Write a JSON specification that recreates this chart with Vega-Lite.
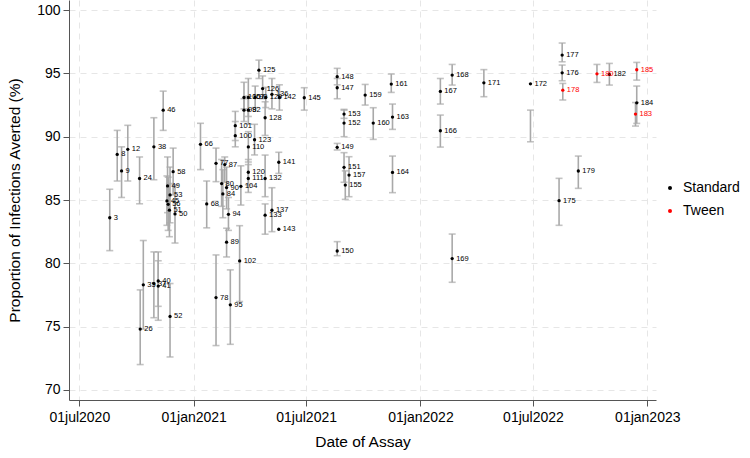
{
  "$schema": "https://vega.github.io/schema/vega-lite/v6.json",
  "width": 587,
  "height": 400,
  "autosize": {"type": "none"},
  "padding": {"left": 69, "top": 0, "right": 94, "bottom": 58},
  "background": "white",
  "config": {
    "view": {"stroke": null},
    "font": "Liberation Sans",
    "axis": {
      "domainColor": "#555555",
      "tickColor": "#555555",
      "tickSize": 6,
      "labelColor": "black",
      "titleColor": "black",
      "labelFontSize": 14,
      "titleFontSize": 15.5,
      "titleFontWeight": "normal",
      "gridColor": "#e6e6e6",
      "gridDash": [6, 5],
      "gridWidth": 1
    }
  },
  "data": {
    "values": [
      {"d": "2020-08-19", "v": 83.6, "lo": 81.0, "hi": 85.85, "id": "3", "g": "Standard"},
      {"d": "2020-08-31", "v": 88.6, "lo": 86.5, "hi": 90.5, "id": "8", "g": "Standard"},
      {"d": "2020-09-07", "v": 87.3, "lo": 85.2, "hi": 89.2, "id": "9", "g": "Standard"},
      {"d": "2020-09-17", "v": 89.0, "lo": 86.5, "hi": 90.9, "id": "12", "g": "Standard"},
      {"d": "2020-10-06", "v": 86.7, "lo": 84.7, "hi": 88.4, "id": "24", "g": "Standard"},
      {"d": "2020-10-07", "v": 74.8, "lo": 72.0, "hi": 77.9, "id": "26", "g": "Standard"},
      {"d": "2020-10-12", "v": 78.3, "lo": 74.8, "hi": 81.8, "id": "35", "g": "Standard"},
      {"d": "2020-10-29", "v": 78.4, "lo": 75.7, "hi": 80.9, "id": "37", "g": "Standard"},
      {"d": "2020-10-29", "v": 89.2, "lo": 86.6, "hi": 91.5, "id": "38", "g": "Standard"},
      {"d": "2020-11-05", "v": 78.6, "lo": 76.6, "hi": 80.2, "id": "40", "g": "Standard"},
      {"d": "2020-11-05", "v": 78.2, "lo": 75.5, "hi": 80.9, "id": "41", "g": "Standard"},
      {"d": "2020-11-13", "v": 92.1, "lo": 90.5, "hi": 93.6, "id": "46", "g": "Standard"},
      {"d": "2020-11-19", "v": 84.93, "lo": 83.0, "hi": 86.9, "id": "45", "g": "Standard"},
      {"d": "2020-11-20", "v": 86.11, "lo": 84.0, "hi": 88.4, "id": "49", "g": "Standard"},
      {"d": "2020-11-21", "v": 84.66, "lo": 82.6, "hi": 86.8, "id": "56", "g": "Standard"},
      {"d": "2020-11-23", "v": 84.2, "lo": 82.1, "hi": 86.3, "id": "51", "g": "Standard"},
      {"d": "2020-11-24", "v": 85.4, "lo": 83.2, "hi": 87.6, "id": "53", "g": "Standard"},
      {"d": "2020-11-24", "v": 75.8, "lo": 72.6, "hi": 78.4, "id": "52", "g": "Standard"},
      {"d": "2020-11-29", "v": 87.24, "lo": 85.4, "hi": 89.1, "id": "58", "g": "Standard"},
      {"d": "2020-12-02", "v": 83.9, "lo": 81.6, "hi": 86.2, "id": "50", "g": "Standard"},
      {"d": "2021-01-12", "v": 89.4, "lo": 87.4, "hi": 91.06, "id": "66", "g": "Standard"},
      {"d": "2021-01-22", "v": 84.69, "lo": 82.8, "hi": 86.5, "id": "68", "g": "Standard"},
      {"d": "2021-02-06", "v": 87.9, "lo": 86.45, "hi": 89.1, "id": "77", "g": "Standard"},
      {"d": "2021-02-06", "v": 77.29, "lo": 73.5, "hi": 80.66, "id": "78", "g": "Standard"},
      {"d": "2021-02-15", "v": 86.3, "lo": 84.5, "hi": 88.2, "id": "80", "g": "Standard"},
      {"d": "2021-02-17", "v": 85.48, "lo": 83.6, "hi": 87.4, "id": "84", "g": "Standard"},
      {"d": "2021-02-20", "v": 87.8, "lo": 86.4, "hi": 88.4, "id": "87", "g": "Standard"},
      {"d": "2021-02-23", "v": 81.67, "lo": 80.5, "hi": 82.77, "id": "89", "g": "Standard"},
      {"d": "2021-02-23", "v": 85.98, "lo": 84.3, "hi": 87.6, "id": "90", "g": "Standard"},
      {"d": "2021-02-26", "v": 83.87, "lo": 82.6, "hi": 85.2, "id": "94", "g": "Standard"},
      {"d": "2021-03-01", "v": 76.72, "lo": 73.6, "hi": 79.48, "id": "95", "g": "Standard"},
      {"d": "2021-03-09", "v": 90.87, "lo": 89.7, "hi": 92.0, "id": "101", "g": "Standard"},
      {"d": "2021-03-09", "v": 90.08, "lo": 89.2, "hi": 91.2, "id": "100", "g": "Standard"},
      {"d": "2021-03-16", "v": 80.19, "lo": 76.98, "hi": 82.97, "id": "102", "g": "Standard"},
      {"d": "2021-03-18", "v": 86.08, "lo": 84.6, "hi": 87.7, "id": "104", "g": "Standard"},
      {"d": "2021-03-23", "v": 93.1, "lo": 92.2, "hi": 94.3, "id": "105", "g": "Standard"},
      {"d": "2021-03-23", "v": 92.1, "lo": 91.2, "hi": 93.0, "id": "98", "g": "Standard"},
      {"d": "2021-03-30", "v": 93.1, "lo": 91.6, "hi": 94.6, "id": "107", "g": "Standard"},
      {"d": "2021-03-30", "v": 92.1, "lo": 91.0, "hi": 93.2, "id": "92", "g": "Standard"},
      {"d": "2021-03-30", "v": 89.19, "lo": 88.0, "hi": 90.4, "id": "110", "g": "Standard"},
      {"d": "2021-03-30", "v": 87.19, "lo": 86.2, "hi": 88.2, "id": "120", "g": "Standard"},
      {"d": "2021-03-30", "v": 86.7, "lo": 85.6, "hi": 87.8, "id": "111", "g": "Standard"},
      {"d": "2021-04-10", "v": 93.1, "lo": 92.3, "hi": 94.0, "id": "99", "g": "Standard"},
      {"d": "2021-04-09", "v": 89.76, "lo": 88.56, "hi": 90.98, "id": "123", "g": "Standard"},
      {"d": "2021-04-16", "v": 95.26, "lo": 94.6, "hi": 96.05, "id": "125", "g": "Standard"},
      {"d": "2021-04-22", "v": 93.8, "lo": 93.0, "hi": 94.8, "id": "126", "g": "Standard"},
      {"d": "2021-04-27", "v": 93.1, "lo": 92.3, "hi": 93.9, "id": "129", "g": "Standard"},
      {"d": "2021-04-26", "v": 91.5, "lo": 90.1, "hi": 92.76, "id": "128", "g": "Standard"},
      {"d": "2021-04-26", "v": 86.7, "lo": 85.26, "hi": 88.55, "id": "132", "g": "Standard"},
      {"d": "2021-04-26", "v": 83.8, "lo": 82.3, "hi": 84.69, "id": "133", "g": "Standard"},
      {"d": "2021-05-07", "v": 84.19, "lo": 82.5, "hi": 85.97, "id": "137", "g": "Standard"},
      {"d": "2021-05-07", "v": 93.35, "lo": 92.2, "hi": 94.6, "id": "136", "g": "Standard"},
      {"d": "2021-05-19", "v": 93.1, "lo": 92.1, "hi": 94.1, "id": "142", "g": "Standard"},
      {"d": "2021-05-18", "v": 87.98, "lo": 87.1, "hi": 88.77, "id": "141", "g": "Standard"},
      {"d": "2021-05-18", "v": 82.69, "lo": null, "hi": null, "id": "143", "g": "Standard"},
      {"d": "2021-06-28", "v": 93.08, "lo": 92.1, "hi": 93.87, "id": "145", "g": "Standard"},
      {"d": "2021-08-20", "v": 94.74, "lo": 94.1, "hi": 95.4, "id": "148", "g": "Standard"},
      {"d": "2021-08-20", "v": 93.87, "lo": 93.0, "hi": 94.6, "id": "147", "g": "Standard"},
      {"d": "2021-08-20", "v": 89.16, "lo": 88.95, "hi": 89.47, "id": "149", "g": "Standard"},
      {"d": "2021-08-20", "v": 80.97, "lo": 80.6, "hi": 81.71, "id": "150", "g": "Standard"},
      {"d": "2021-08-31", "v": 91.79, "lo": 91.45, "hi": 92.16, "id": "153", "g": "Standard"},
      {"d": "2021-08-31", "v": 91.08, "lo": 90.0, "hi": 92.1, "id": "152", "g": "Standard"},
      {"d": "2021-08-31", "v": 87.58, "lo": 86.4, "hi": 88.74, "id": "151", "g": "Standard"},
      {"d": "2021-09-02", "v": 86.18, "lo": 85.05, "hi": 87.3, "id": "155", "g": "Standard"},
      {"d": "2021-09-08", "v": 86.97, "lo": 85.26, "hi": 88.42, "id": "157", "g": "Standard"},
      {"d": "2021-10-04", "v": 93.29, "lo": 92.5, "hi": 94.13, "id": "159", "g": "Standard"},
      {"d": "2021-10-17", "v": 91.08, "lo": 89.79, "hi": 92.29, "id": "160", "g": "Standard"},
      {"d": "2021-11-15", "v": 94.16, "lo": 93.5, "hi": 94.95, "id": "161", "g": "Standard"},
      {"d": "2021-11-17", "v": 91.55, "lo": 90.58, "hi": 92.58, "id": "163", "g": "Standard"},
      {"d": "2021-11-17", "v": 87.18, "lo": 85.58, "hi": 88.47, "id": "164", "g": "Standard"},
      {"d": "2022-02-02", "v": 90.47, "lo": 89.18, "hi": 91.71, "id": "166", "g": "Standard"},
      {"d": "2022-02-02", "v": 93.58, "lo": 92.58, "hi": 94.6, "id": "167", "g": "Standard"},
      {"d": "2022-02-21", "v": 94.87, "lo": 94.08, "hi": 95.71, "id": "168", "g": "Standard"},
      {"d": "2022-02-21", "v": 80.37, "lo": 78.5, "hi": 82.31, "id": "169", "g": "Standard"},
      {"d": "2022-04-13", "v": 94.26, "lo": 93.16, "hi": 95.3, "id": "171", "g": "Standard"},
      {"d": "2022-06-27", "v": 94.18, "lo": null, "hi": null, "id": "172", "g": "Standard"},
      {"d": "2022-06-27", "v": null, "lo": 89.6, "hi": 92.1, "id": "", "g": "Standard"},
      {"d": "2022-08-12", "v": 84.95, "lo": 83.0, "hi": 86.71, "id": "175", "g": "Standard"},
      {"d": "2022-08-17", "v": 96.45, "lo": 95.92, "hi": 97.4, "id": "177", "g": "Standard"},
      {"d": "2022-08-17", "v": 95.05, "lo": 94.42, "hi": 95.66, "id": "176", "g": "Standard"},
      {"d": "2022-08-18", "v": 93.68, "lo": 92.9, "hi": 94.21, "id": "178", "g": "Tween"},
      {"d": "2022-09-12", "v": 87.29, "lo": 85.92, "hi": 88.47, "id": "179", "g": "Standard"},
      {"d": "2022-10-12", "v": 94.97, "lo": 94.29, "hi": 95.71, "id": "180", "g": "Tween"},
      {"d": "2022-11-01", "v": 94.92, "lo": 94.08, "hi": 95.79, "id": "182", "g": "Standard"},
      {"d": "2022-12-15", "v": 95.29, "lo": 94.47, "hi": 95.87, "id": "185", "g": "Tween"},
      {"d": "2022-12-15", "v": 92.68, "lo": 91.05, "hi": 94.0, "id": "184", "g": "Standard"},
      {"d": "2022-12-13", "v": 91.79, "lo": 90.84, "hi": 92.7, "id": "183", "g": "Tween"}
    ]
  },
  "encoding": {
    "x": {
      "field": "d",
      "type": "temporal",
      "title": "Date of Assay",
      "scale": {
        "type": "utc",
        "domain": [
          {"year": 2020, "month": 6, "date": 14, "hours": 10, "utc": true},
          {"year": 2023, "month": 1, "date": 15, "utc": true}
        ]
      },
      "axis": {
        "values": [
          {"year": 2020, "month": 7, "date": 1, "utc": true},
          {"year": 2021, "month": 1, "date": 1, "utc": true},
          {"year": 2021, "month": 7, "date": 1, "utc": true},
          {"year": 2022, "month": 1, "date": 1, "utc": true},
          {"year": 2022, "month": 7, "date": 1, "utc": true},
          {"year": 2023, "month": 1, "date": 1, "utc": true}
        ],
        "labelExpr": "lower(utcFormat(datum.value, '%d%b%Y'))",
        "labelPadding": 4,
        "titlePadding": 10,
        "grid": true
      }
    }
  },
  "layer": [
    {
      "transform": [{"filter": "datum.lo != null"}],
      "mark": {
        "type": "errorbar",
        "color": "#a9a9a9",
        "thickness": 1.6,
        "ticks": {"size": 7, "thickness": 1.6, "color": "#a9a9a9"}
      },
      "encoding": {
        "y": {
          "field": "lo",
          "type": "quantitative",
          "title": "Proportion of Infections Averted (%)",
          "scale": {"domain": [69.2, 100.8], "nice": false, "zero": false},
          "axis": {
            "values": [70, 75, 80, 85, 90, 95, 100],
            "labelPadding": 3,
            "titlePadding": 14,
            "grid": true
          }
        },
        "y2": {"field": "hi"}
      }
    },
    {
      "transform": [{"filter": "datum.v != null"}],
      "mark": {"type": "point", "shape": "circle", "filled": true, "size": 11, "opacity": 1},
      "encoding": {
        "y": {"field": "v", "type": "quantitative"},
        "color": {
          "field": "g",
          "type": "nominal",
          "scale": {"domain": ["Standard", "Tween"], "range": ["black", "red"]},
          "legend": {
            "title": null,
            "orient": "none",
            "legendX": 594,
            "legendY": 181,
            "labelFontSize": 14,
            "symbolSize": 16,
            "symbolType": "circle",
            "rowPadding": 9,
            "labelOffset": 6
          }
        }
      }
    },
    {
      "transform": [{"filter": "datum.v != null"}],
      "mark": {"type": "text", "align": "left", "baseline": "middle", "dx": 4, "fontSize": 7.5},
      "encoding": {
        "y": {"field": "v", "type": "quantitative"},
        "text": {"field": "id"},
        "color": {"field": "g", "type": "nominal", "legend": null}
      }
    }
  ]
}
